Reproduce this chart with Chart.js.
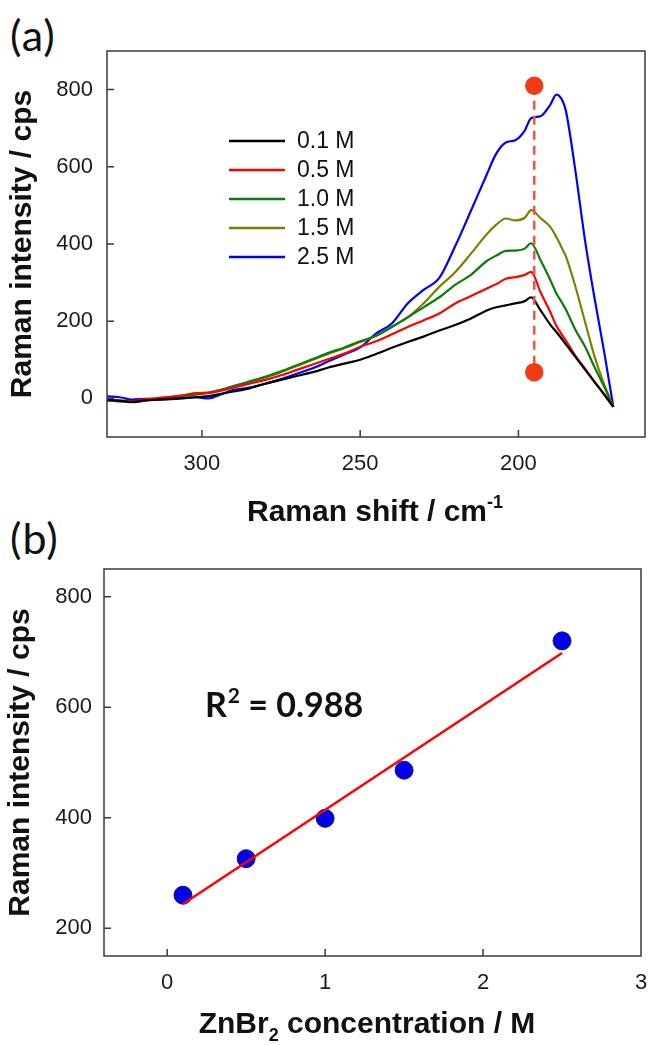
<!DOCTYPE html>
<html>
<head>
<meta charset="utf-8">
<script src="https://cdn.jsdelivr.net/npm/chart.js@4.4.0/dist/chart.umd.min.js"></script>
<style>
    body { margin: 0; background: #fff; width: 648px; height: 1045px; position: relative; overflow: hidden; }
    canvas { position: absolute; left: 0; }
    #chartA { top: 0; }
    #chartB { top: 520px; }
    .panel-label { position: absolute; left: 10px; font-family: Lato, sans-serif; font-size: 43px; line-height: 43px; letter-spacing: 1px; color: #111; }
</style>
</head>
<body>
<div class="panel-label" style="top: 13px;">(a)</div>
<div class="panel-label" style="top: 516px;">(b)</div>
<canvas id="chartA" width="648" height="545"></canvas>
<canvas id="chartB" width="648" height="525"></canvas>
<script>
// (a) Raman spectra
const ramanShift = [330, 326, 322, 318, 314, 310, 306, 302, 298, 294, 290, 285, 280, 275, 270, 265, 260, 255, 250, 245,
    240, 235, 230, 225, 220, 215, 210, 207, 204, 201, 198, 196, 193, 190, 188, 186, 185, 182, 179, 176, 173, 170];
const int01 = [-4, -6, -9, -5, -3, -1, 1, 3, 6, 12, 18, 26, 38, 48, 58, 68, 80, 90, 100, 115,
    131, 146, 160, 176, 190, 207, 228, 236, 241, 246, 252, 262, 228, 192, 172, 151, 140, 108, 75, 43, 11, -22];
const int05 = [-3, -6, -7, -2, 1, 4, 8, 13, 14, 20, 28, 38, 48, 60, 74, 88, 102, 116, 134, 148,
    166, 185, 202, 220, 246, 265, 285, 296, 310, 314, 320, 328, 275, 225, 188, 162, 150, 110, 78, 44, 12, -22];
const int10 = [-5, -8, -10, -6, -2, 2, 6, 10, 14, 22, 32, 44, 56, 70, 86, 102, 118, 132, 148, 162,
    185, 210, 236, 262, 294, 320, 356, 370, 382, 383, 388, 402, 358, 308, 272, 245, 230, 178, 135, 82, 32, -22];
const int15 = [-5, -7, -9, -5, -1, 3, 8, 13, 16, 22, 32, 42, 54, 68, 84, 100, 116, 130, 146, 162,
    186, 210, 246, 289, 327, 375, 425, 450, 466, 461, 468, 488, 467, 445, 418, 385, 368, 290, 200, 110, 38, -22];
const int25 = [5, 3, -3, -1, -3, -2, 0, 3, 0, 10, 22, 28, 38, 50, 64, 78, 96, 114, 132, 168,
    194, 246, 281, 312, 394, 486, 580, 634, 663, 669, 694, 726, 731, 760, 787, 770, 745, 590, 412, 262, 125, -22];
const seriesLabels = ['0.1 M', '0.5 M', '1.0 M', '1.5 M', '2.5 M'];
const seriesColors = ['#000000', '#ff0000', '#0a7d0a', '#7f7f00', '#0000ff'];
const markerShift = [195, 195];
const markerIntensity = [810, 68];
const xTicksA = [300, 250, 200];
const yTicksA = [0, 200, 400, 600, 800];

// (b) calibration
const concentration = [0.1, 0.5, 1.0, 1.5, 2.5];
const peakIntensity = [260, 326, 399, 486, 720];
const fitConcentration = [0.1, 2.5];
const fitIntensity = [244, 698];
const xTicksB = [0, 1, 2, 3];
const yTicksB = [200, 400, 600, 800];

const tickFont = { family: 'Liberation Sans', size: 22 };
const titleFamily = 'Liberation Sans';
const titleSize = 30;

/**
 * 上付き・下付きを含む文字列を描画します。
 */
const drawRich = (ctx, parts, cx, baseY, size, family) => {
    const fontOf = (p) => `bold ${p[1] === 'n' ? size : Math.round(size * 0.6)}px "${family}"`;
    let total = 0;
    parts.forEach((p) => {
        ctx.font = fontOf(p);
        total += ctx.measureText(p[0]).width;
    });
    let x = cx - total / 2;
    ctx.textAlign = 'left';
    ctx.textBaseline = 'alphabetic';
    parts.forEach((p) => {
        ctx.font = fontOf(p);
        const dy = p[1] === 'sup' ? -size * 0.42 : p[1] === 'sub' ? size * 0.28 : 0;
        ctx.fillText(p[0], x, baseY + dy);
        x += ctx.measureText(p[0]).width;
    });
};

/**
 * 枠・内向きの目盛り・軸タイトルを描画します。
 */
const framePlugin = {
    id: 'frame',
    afterDraw(chart, args, opts) {
        const { ctx, chartArea: a, scales } = chart;
        ctx.save();
        ctx.strokeStyle = '#3a3a3a';
        ctx.lineWidth = 1.5;
        ctx.strokeRect(a.left, a.top, a.right - a.left, a.bottom - a.top);
        ctx.beginPath();
        opts.yTicks.forEach((v) => {
            const y = scales.y.getPixelForValue(v);
            ctx.moveTo(a.left, y);
            ctx.lineTo(a.left + 7, y);
        });
        opts.xTicks.forEach((v) => {
            const x = scales.x.getPixelForValue(v);
            if (x > a.left + 2 && x < a.right - 2) {
                ctx.moveTo(x, a.bottom);
                ctx.lineTo(x, a.bottom - 7);
            }
        });
        ctx.stroke();

        ctx.fillStyle = '#111';
        drawRich(ctx, opts.xTitle, opts.xTitleX, opts.xTitleY, titleSize, titleFamily);
        ctx.save();
        ctx.translate(opts.yTitleX, (a.top + a.bottom) / 2);
        ctx.rotate(-Math.PI / 2);
        drawRich(ctx, [[opts.yTitle, 'n']], 0, 7, titleSize, titleFamily);
        ctx.restore();
        ctx.restore();
    },
};

/**
 * グラフ内の凡例を描画します。
 */
const legendPlugin = {
    id: 'innerLegend',
    afterDraw(chart, args, opts) {
        if (!opts.show) return;
        const ctx = chart.ctx;
        ctx.save();
        ctx.font = '23px "Liberation Sans"';
        ctx.textBaseline = 'middle';
        ctx.textAlign = 'left';
        seriesLabels.forEach((label, i) => {
            const y = opts.top + i * opts.step;
            ctx.strokeStyle = seriesColors[i];
            ctx.lineWidth = 2.5;
            ctx.beginPath();
            ctx.moveTo(opts.lineLeft, y);
            ctx.lineTo(opts.lineRight, y);
            ctx.stroke();
            ctx.fillStyle = '#111';
            ctx.fillText(label, opts.textLeft, y + 1);
        });
        ctx.restore();
    },
};

/**
 * R2 の注記を描画します。
 */
const notePlugin = {
    id: 'note',
    afterDraw(chart, args, opts) {
        if (!opts.show) return;
        const ctx = chart.ctx;
        ctx.save();
        ctx.fillStyle = '#111';
        ctx.textAlign = 'left';
        ctx.textBaseline = 'alphabetic';
        let x = opts.x;
        ctx.font = 'bold 34px Lato';
        ctx.fillText('R', x, opts.y);
        x += ctx.measureText('R').width + 1;
        ctx.font = 'bold 21px Lato';
        ctx.fillText('2', x, opts.y - 14);
        x += ctx.measureText('2').width;
        ctx.font = 'bold 34px Lato';
        ctx.fillText(' = 0.988', x, opts.y);
        ctx.restore();
    },
};

const toPoints = (xs, ys) => xs.map((x, i) => ({ x: x, y: ys[i] }));

const fixedTicks = (values) => (scale) => {
    scale.ticks = values.map((v) => ({ value: v }));
};

const fixedSize = (prop, size) => (scale) => {
    scale[prop] = size;
    scale.paddingLeft = 0;
    scale.paddingRight = 0;
    scale.paddingTop = 0;
    scale.paddingBottom = 0;
};

const createSpectraChart = () => {
    const curves = [int01, int05, int10, int15, int25].map((data, i) => ({
        label: seriesLabels[i],
        data: toPoints(ramanShift, data),
        borderColor: seriesColors[i],
        borderWidth: 2.2,
        pointRadius: 0,
        showLine: true,
        cubicInterpolationMode: 'monotone',
        order: 1,
    }));
    const marker = {
        label: 'peak',
        data: toPoints(markerShift, markerIntensity),
        borderColor: '#f5533d',
        borderWidth: 2.5,
        borderDash: [9, 6],
        showLine: true,
        pointRadius: 8,
        pointBackgroundColor: '#f23b12',
        pointBorderColor: '#f23b12',
        order: 0,
    };

    return new Chart(document.getElementById('chartA'), {
        type: 'scatter',
        data: { datasets: curves.concat([marker]) },
        options: {
            responsive: false,
            animation: false,
            devicePixelRatio: 1,
            layout: { autoPadding: false, padding: { top: 51, right: 3, left: 0, bottom: 0 } },
            plugins: {
                legend: { display: false },
                tooltip: { enabled: false },
                frame: {
                    xTicks: xTicksA, yTicks: yTicksA,
                    xTitle: [['Raman shift / cm', 'n'], ['-1', 'sup']], xTitleX: 375, xTitleY: 521,
                    yTitle: 'Raman intensity / cps', yTitleX: 24,
                },
                innerLegend: { show: true, top: 141, step: 29, lineLeft: 229, lineRight: 285, textLeft: 297 },
                note: { show: false },
            },
            scales: {
                x: {
                    type: 'linear', reverse: true, min: 160, max: 330,
                    afterBuildTicks: fixedTicks(xTicksA),
                    afterFit: fixedSize('height', 108),
                    grid: { display: false, drawTicks: false },
                    border: { display: false },
                    ticks: { font: tickFont, color: '#1a1a1a', padding: 14, maxRotation: 0 },
                },
                y: {
                    min: -100, max: 900,
                    afterBuildTicks: fixedTicks(yTicksA),
                    afterFit: fixedSize('width', 107),
                    grid: { display: false, drawTicks: false },
                    border: { display: false },
                    ticks: { font: tickFont, color: '#1a1a1a', padding: 14 },
                },
            },
        },
        plugins: [framePlugin, legendPlugin, notePlugin],
    });
};

const createCalibrationChart = () => {
    return new Chart(document.getElementById('chartB'), {
        type: 'scatter',
        data: {
            datasets: [
                {
                    label: 'fit',
                    data: toPoints(fitConcentration, fitIntensity),
                    borderColor: '#ff0000',
                    borderWidth: 2.5,
                    showLine: true,
                    pointRadius: 0,
                    order: 0,
                },
                {
                    label: 'peak intensity',
                    data: toPoints(concentration, peakIntensity),
                    pointRadius: 9,
                    pointBackgroundColor: '#0000ee',
                    pointBorderColor: '#1c1c50',
                    pointBorderWidth: 1,
                    order: 1,
                },
            ],
        },
        options: {
            responsive: false,
            animation: false,
            devicePixelRatio: 1,
            layout: { autoPadding: false, padding: { top: 49, right: 7, left: 0, bottom: 0 } },
            plugins: {
                legend: { display: false },
                tooltip: { enabled: false },
                frame: {
                    xTicks: xTicksB, yTicks: yTicksB,
                    xTitle: [['ZnBr', 'n'], ['2', 'sub'], [' concentration / M', 'n']], xTitleX: 367, xTitleY: 513,
                    yTitle: 'Raman intensity / cps', yTitleX: 22,
                },
                innerLegend: { show: false },
                note: { show: true, x: 205, y: 197 },
            },
            scales: {
                x: {
                    type: 'linear', min: -0.4, max: 3,
                    afterBuildTicks: fixedTicks(xTicksB),
                    afterFit: fixedSize('height', 89),
                    grid: { display: false, drawTicks: false },
                    border: { display: false },
                    ticks: { font: tickFont, color: '#1a1a1a', padding: 14, maxRotation: 0 },
                },
                y: {
                    min: 150, max: 850,
                    afterBuildTicks: fixedTicks(yTicksB),
                    afterFit: fixedSize('width', 104),
                    grid: { display: false, drawTicks: false },
                    border: { display: false },
                    ticks: { font: tickFont, color: '#1a1a1a', padding: 12 },
                },
            },
        },
        plugins: [framePlugin, legendPlugin, notePlugin],
    });
};

createSpectraChart();
createCalibrationChart();
</script>
</body>
</html>
